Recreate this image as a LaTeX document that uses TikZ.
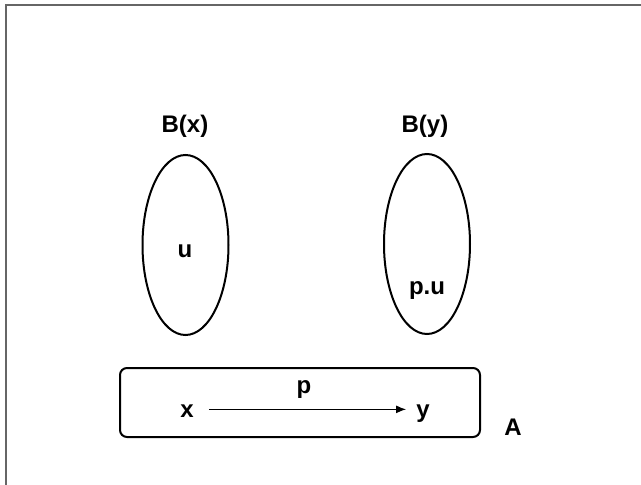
\documentclass[tikz,border=0pt]{standalone}
\usepackage{fontspec}
\setmainfont{Liberation Sans}
\usetikzlibrary{shapes.geometric,arrows.meta}

\tikzset{
    fibre/.style={draw, ellipse, line width=2pt, minimum width=86pt, minimum height=180pt, inner sep=0pt},
    lab/.style={font=\fontsize{24}{28}\selectfont\bfseries, inner sep=0pt, anchor=base},
}

\begin{document}
\begin{tikzpicture}[x=1pt, y=-1pt]
    \useasboundingbox (0,0) rectangle (641,485);
    % frame
    \draw[black!60, line width=1.3pt] (6,485) -- (6,5) -- (641,5);

    % fibres over x and y
    \node[fibre] (bx) at (185.5,245) {};
    \node[fibre] (by) at (427,244) {};
    \node[lab] (bxlab) at (185,132) {B(x)};
    \node[lab] (bylab) at (425,132) {B(y)};
    \node[lab] (u) at (185,257) {u};
    \node[lab] (pu) at (427,294) {p.u};

    % base space A
    \node[draw, line width=2pt, rounded corners=7pt, minimum width=360pt, minimum height=69pt] (base) at (300,402.5) {};
    \node[lab] (x) at (187,417) {x};
    \node[lab] (y) at (423,417) {y};
    \node[lab] (p) at (304,393) {p};
    \node[lab] (a) at (513,435) {A};

    \draw[line width=1.3pt, -{Latex[length=10pt, width=8pt]}, shorten <=15pt, shorten >=10pt]
        ([yshift=5pt]x.mid east) -- ([yshift=5pt]y.mid west);
\end{tikzpicture}
\end{document}
